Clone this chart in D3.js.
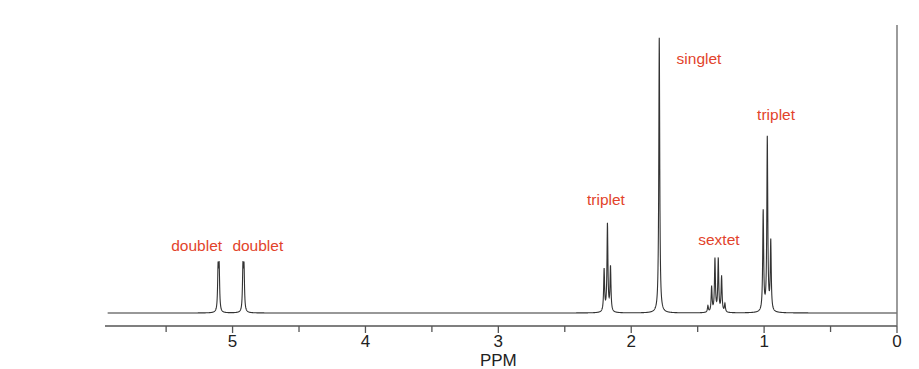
<!DOCTYPE html>
<html><head><meta charset="utf-8">
<script src="https://cdn.jsdelivr.net/npm/d3@7"></script>
<style>html,body{margin:0;padding:0;background:#fff;}svg{display:block;}</style>
</head><body>
<svg id="c" width="919" height="369"></svg>
<script>
// peak list (ppm, relative intensity; singlet = 100)
const peakPPM = [5.109, 5.101, 4.922, 4.914, 2.204, 2.179, 2.156, 1.789, 1.423, 1.395, 1.370, 1.345, 1.320, 1.295, 1.007, 0.976, 0.950];
const peakHeight = [15.2, 15.2, 15.2, 15.2, 15.2, 31.5, 16.0, 99.0, 2.3, 9.1, 19.0, 19.0, 12.8, 3.0, 36.0, 62.5, 25.0];
const labelText = ["doublet", "doublet", "triplet", "singlet", "sextet", "triplet"];
const labelPPM = [5.27, 4.81, 2.19, 1.49, 1.34, 0.91];
const labelLevel = [22.2, 22.2, 38.8, 89.4, 24.4, 69.3];
const tickValues = [5, 4, 3, 2, 1, 0];
const minorTicks = [5.5, 4.5, 3.5, 2.5, 1.5, 0.5];
const axisTitle = "PPM";

const svg = d3.select("#c");
const x = d3.scaleLinear().domain([5.96, 0]).range([105, 897]);
const y = d3.scaleLinear().domain([0, 100]).range([313, 35]);

// spectrum drawn as Lorentzian line shapes of the peak list
const hw = 0.0042;
const grid = [];
for (let p = 5.94; p >= 0; p -= 0.0015) grid.push(p);
peakPPM.forEach(p => grid.push(p));
grid.sort((a, b) => b - a);
const spec = grid.map(p => {
  let s = 0;
  peakPPM.forEach((c, i) => { const d = (p - c) / hw; s += peakHeight[i] / (1 + d * d); });
  return [p, s];
});
svg.append("path")
  .attr("d", d3.line().x(d => x(d[0])).y(d => y(d[1]))(spec))
  .attr("fill", "none").attr("stroke", "#333").attr("stroke-width", 1.1);

// axis
const axisY = 326;
const g = svg.append("g");
g.append("line").attr("x1", x(5.96)).attr("x2", x(0)).attr("y1", axisY).attr("y2", axisY)
  .attr("stroke", "#555").attr("stroke-width", 1.3);
g.append("line").attr("x1", x(0)).attr("x2", x(0)).attr("y1", 25).attr("y2", axisY)
  .attr("stroke", "#666").attr("stroke-width", 1.3);
g.selectAll(".maj").data(tickValues).enter().append("line")
  .attr("x1", d => x(d)).attr("x2", d => x(d)).attr("y1", axisY).attr("y2", axisY + 7)
  .attr("stroke", "#555").attr("stroke-width", 1.3);
g.selectAll(".min").data(minorTicks).enter().append("line")
  .attr("x1", d => x(d)).attr("x2", d => x(d)).attr("y1", axisY).attr("y2", axisY + 6)
  .attr("stroke", "#555").attr("stroke-width", 1.3);
g.selectAll(".tl").data(tickValues).enter().append("text")
  .attr("x", d => x(d)).attr("y", 347).attr("text-anchor", "middle")
  .attr("font-family", "Liberation Sans, Arial, sans-serif").attr("font-size", 17)
  .attr("fill", "#222").text(d => d);
svg.append("text").attr("x", x(3)).attr("y", 366).attr("text-anchor", "middle")
  .attr("font-family", "Liberation Sans, Arial, sans-serif").attr("font-size", 17)
  .attr("fill", "#222").text(axisTitle);

// labels
svg.selectAll(".lab").data(labelText).enter().append("text")
  .attr("x", (d, i) => x(labelPPM[i])).attr("y", (d, i) => y(labelLevel[i]))
  .attr("text-anchor", "middle")
  .attr("font-family", "Liberation Sans, Arial, sans-serif").attr("font-size", 15.5)
  .attr("fill", "#e2432b").text(d => d);
</script>
</body></html>
